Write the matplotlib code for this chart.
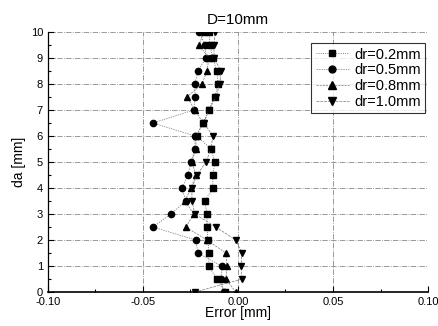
import matplotlib
matplotlib.use('Agg')
import matplotlib.pyplot as plt
import numpy as np

plt.rcParams['font.family'] = ['Liberation Sans', 'DejaVu Sans']

# da positions [mm]
da = [0, 0.5, 1, 1.5, 2, 2.5, 3, 3.5, 4, 4.5, 5, 5.5, 6, 6.5, 7, 7.5, 8, 8.5, 9, 9.5, 10]

# errors [mm]
err_02 = [-0.0068, -0.0111, -0.0153, -0.0153, -0.0158, -0.0163, -0.0163, -0.0174, -0.0132, -0.0132,
          -0.0121, -0.0142, -0.0216, -0.0184, -0.0153, -0.0121, -0.0105, -0.0111, -0.0132, -0.0147, -0.0153]
err_05 = [-0.0074, -0.0089, -0.0084, -0.0211, -0.0221, -0.0447, -0.0353, -0.0274, -0.0295, -0.0263,
          -0.0247, -0.0226, -0.0226, -0.0447, -0.0232, -0.0226, -0.0226, -0.0211, -0.0168, -0.0174, -0.0205]
err_08 = [-0.0011, -0.0063, -0.0058, -0.0063, -0.0163, -0.0274, -0.0232, -0.0279, -0.0247, -0.0221,
          -0.0242, -0.0221, -0.0221, -0.0184, -0.0226, -0.0268, -0.0189, -0.0163, -0.0153, -0.0205, -0.0179]
err_10 = [-0.0226, 0.0021, 0.0016, 0.0021, -0.0011, -0.0116, -0.0226, -0.0242, -0.0242, -0.0216,
          -0.0168, -0.0142, -0.0132, -0.0179, -0.0153, -0.0116, -0.0095, -0.0089, -0.0126, -0.0126, -0.0121]

fig = plt.figure(figsize=(4.39, 3.26), dpi=100)
ax = fig.add_axes([0.109, 0.104, 0.866, 0.798])

ax.plot(err_02, da, color='#555555', lw=0.6, ls=':', marker='s', ms=4.5, mfc='black', mec='black', label='dr=0.2mm')
ax.plot(err_05, da, color='#777777', lw=0.5, ls=(0, (2, 1.5)), marker='o', ms=4.5, mfc='black', mec='black', label='dr=0.5mm')
ax.plot(err_08, da, color='#777777', lw=0.5, ls=(0, (3, 1.5)), marker='^', ms=5, mfc='black', mec='black', label='dr=0.8mm')
ax.plot(err_10, da, color='#777777', lw=0.5, ls=(0, (4, 1.5)), marker='v', ms=5, mfc='black', mec='black', label='dr=1.0mm')

ax.set_xlim(-0.10, 0.10)
ax.set_ylim(0, 10)
ax.set_xticks([-0.10, -0.05, 0.00, 0.05, 0.10])
ax.set_xticklabels(['-0.10', '-0.05', '0.00', '0.05', '0.10'])
ax.set_xticks(np.arange(-0.10, 0.101, 0.025), minor=True)
ax.set_yticks(range(0, 11))
ax.set_yticks(np.arange(0, 10.01, 0.5), minor=True)
ax.tick_params(which='both', direction='in', labelsize=8, width=0.8)
ax.tick_params(which='major', length=4)
ax.tick_params(which='minor', length=2)
ax.grid(True, which='major', color='#888888', lw=0.6, ls='-.')

for s in ['top', 'right']:
    ax.spines[s].set_visible(False)
ax.spines['left'].set_linewidth(0.9)
ax.spines['bottom'].set_linewidth(1.2)

ax.set_title('D=10mm', fontsize=11, pad=6)
ax.set_xlabel('Error [mm]', fontsize=10, labelpad=-1)
ax.set_ylabel('da [mm]', fontsize=10, labelpad=3)

leg = ax.legend(loc='upper right', bbox_to_anchor=(1.012, 0.985), fontsize=10.5, frameon=True,
                fancybox=False, edgecolor='black', handlelength=2.3, borderpad=0.3,
                labelspacing=0.12, handletextpad=0.35, markerscale=1.1)
leg.get_frame().set_linewidth(0.8)

fig.savefig('out.png', dpi=100)
